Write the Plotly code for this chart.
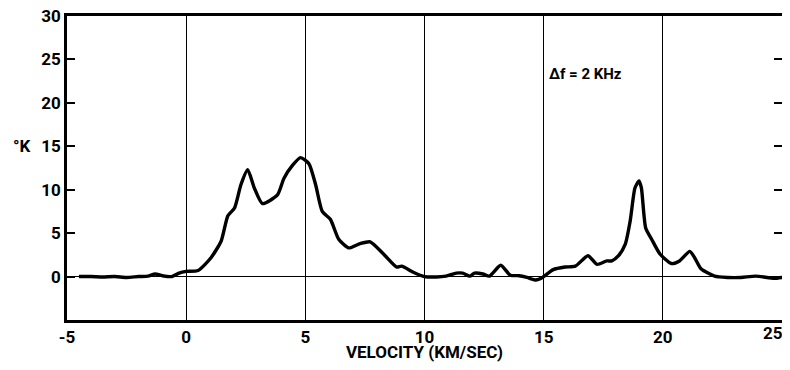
import plotly.graph_objects as go

# velocidade (km/s) e temperatura de antena (K)
velocidade = [-4.5, -4.0, -3.5, -3.0, -2.5, -2.0, -1.6, -1.3, -1.0, -0.6, -0.3, 0.0, 0.5,
              1.05, 1.47, 1.75, 2.03, 2.3, 2.58, 2.86, 3.2, 3.83, 4.1, 4.46, 4.8, 5.15,
              5.43, 5.71, 6.05, 6.4, 6.82, 7.3, 7.72, 8.28, 8.83, 9.04, 9.53, 10.0,
              10.5, 10.9, 11.33, 11.6, 11.9, 12.1, 12.45, 12.72, 13.2, 13.6, 13.97,
              14.3, 14.67, 14.95, 15.4, 15.9, 16.33, 16.86, 17.24, 17.65, 17.86, 18.14,
              18.42, 18.63, 18.83, 19.0, 19.1, 19.28, 19.53, 19.88, 20.36, 20.7, 21.13,
              21.33, 21.6, 22.17, 22.72, 23.28, 23.9, 24.67, 25.0]
temperatura = [0.0, 0.0, -0.05, 0.0, -0.1, 0.0, 0.05, 0.3, 0.1, 0.0, 0.4, 0.6, 0.7,
               2.2, 4.1, 7.0, 7.9, 10.6, 12.3, 10.2, 8.4, 9.4, 11.3, 12.8, 13.7, 13.0,
               10.6, 7.5, 6.6, 4.3, 3.3, 3.8, 4.0, 2.6, 1.1, 1.2, 0.5, 0.0,
               -0.05, 0.05, 0.4, 0.4, 0.05, 0.4, 0.3, 0.05, 1.3, 0.15, 0.1,
               -0.1, -0.4, -0.1, 0.8, 1.1, 1.2, 2.4, 1.4, 1.8, 1.8, 2.4,
               3.7, 6.4, 10.2, 11.0, 10.2, 5.6, 4.3, 2.6, 1.5, 1.8, 2.9,
               2.2, 0.9, 0.05, -0.1, -0.1, 0.05, -0.2, -0.1]

x_ticks = [-5, 0, 5, 10, 15, 20, 25]
x_labels = ['-5', '0', '5', '10', '15', '20', '']  # o 25 vai numa anotacao (borda direita)
y_ticks = [0, 5, 10, 15, 20, 25, 30]

fonte = 'Roboto, Liberation Sans, sans-serif'

fig = go.Figure()

fig.add_trace(go.Scatter(x=velocidade, y=temperatura, mode='lines',
                         line=dict(color='black', width=3.4, shape='spline', smoothing=0.6),
                         showlegend=False, hoverinfo='skip'))

fig.add_annotation(x=16.75, y=23.3, text='Δf = 2 KHz', showarrow=False, xanchor='center',
                   font=dict(family=fonte, size=15, color='black', weight='bold'))
fig.add_annotation(x=-0.063, xref='paper', y=15, yref='y', text='°K', showarrow=False,
                   xanchor='center',
                   font=dict(family=fonte, size=17, color='black', weight='bold'))
fig.add_annotation(x=x_ticks[-1], y=-5, yref='y', text=str(x_ticks[-1]), showarrow=False,
                   xanchor='right', yanchor='top', xshift=3, yshift=-1,
                   font=dict(family=fonte, size=17, color='black', weight='bold'))

# a pagina desloca a figura 8 px (margem do body); altura menor evita barra de rolagem
fig.update_layout(
    width=782, height=354,
    margin=dict(l=59, r=8, t=8, b=42),
    plot_bgcolor='white', paper_bgcolor='white',
    font=dict(family=fonte, size=17, color='black', weight='bold'),
    xaxis=dict(range=[-5, 25], tickvals=x_ticks, ticktext=x_labels, ticks='', showgrid=True,
               gridcolor='black', gridwidth=1, zeroline=False, automargin=False,
               ticklabeloverflow='allow',
               showline=True, linecolor='black', linewidth=2.5, mirror=True,
               title=dict(text='VELOCITY (KM/SEC)', standoff=7,
                          font=dict(family=fonte, size=17, weight='bold'))),
    yaxis=dict(range=[-5, 30], tickvals=y_ticks, ticks='inside', ticklen=8,
               tickwidth=1.5, tickcolor='black', showgrid=False, automargin=False,
               ticklabeloverflow='allow',
               zeroline=True, zerolinecolor='black', zerolinewidth=1,
               showline=True, linecolor='black', linewidth=2.5, mirror='ticks'),
)

fig.write_html("out.html")
